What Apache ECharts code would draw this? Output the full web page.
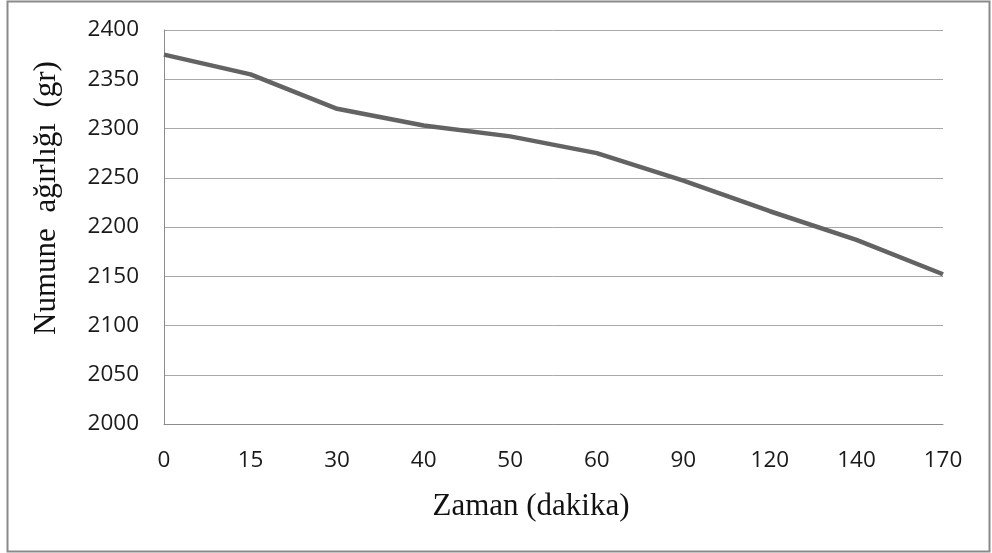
<!DOCTYPE html>
<html>
<head>
<meta charset="utf-8">
<script src="https://cdn.jsdelivr.net/npm/echarts@6/dist/echarts.min.js"></script>
<style>
	html, body { margin: 0; padding: 0; background: #fff; }
	#chart { width: 992px; height: 553px; }
</style>
</head>
<body>
<div id="chart"></div>
<script>
// zaman (dakika) - numune ağırlığı (gr)
const minutes = ["0", "15", "30", "40", "50", "60", "90", "120", "140", "170"];
const weights = [2375, 2355, 2320, 2303, 2292, 2275, 2247, 2216, 2187, 2152];
const yTicks = { min: 2000, max: 2400, step: 50 };

const tickFont = "'Open Sans', sans-serif";
const titleFont = "'Liberation Serif', 'DejaVu Serif', serif";

const chart = echarts.init(document.getElementById("chart"));
chart.setOption({
	animation: false,
	grid: { left: 164, right: 49, top: 30, bottom: 129 },
	xAxis: {
		type: "category",
		data: minutes,
		boundaryGap: false,
		axisLine: { lineStyle: { color: "#8c8c8c", width: 1 } },
		axisTick: { show: false },
		axisLabel: { color: "#1a1a1a", fontFamily: tickFont, fontSize: 22.5, margin: 25 },
		splitLine: { show: false }
	},
	yAxis: {
		type: "value",
		min: yTicks.min,
		max: yTicks.max,
		interval: yTicks.step,
		axisLine: { show: true, lineStyle: { color: "#8c8c8c", width: 1 } },
		axisTick: { show: false },
		axisLabel: {
			color: "#1a1a1a", fontFamily: tickFont, fontSize: 22.5, margin: 25,
			formatter: (v) => String(v)
		},
		splitLine: { lineStyle: { color: "#a8a8a8", width: 1 } }
	},
	series: [{
		type: "line",
		data: weights,
		showSymbol: false,
		lineStyle: { color: "#636363", width: 4.5 },
		itemStyle: { color: "#636363" }
	}],
	graphic: [
		{
			type: "rect",
			shape: { x: 7.5, y: 1.5, width: 982, height: 550 },
			style: { fill: null, stroke: "#8a8a8a", lineWidth: 2 },
			silent: true
		},
		{
			type: "text",
			x: 531, y: 507,
			style: {
				text: "Zaman (dakika)",
				font: "31px " + titleFont,
				fill: "#111",
				align: "center",
				verticalAlign: "middle"
			}
		},
		{
			type: "text",
			x: 47, y: 198,
			rotation: Math.PI / 2,
			style: {
				text: "Numune  ağırlığı  (gr)",
				font: "31px " + titleFont,
				fill: "#111",
				align: "center",
				verticalAlign: "middle"
			}
		}
	]
});
</script>
</body>
</html>
